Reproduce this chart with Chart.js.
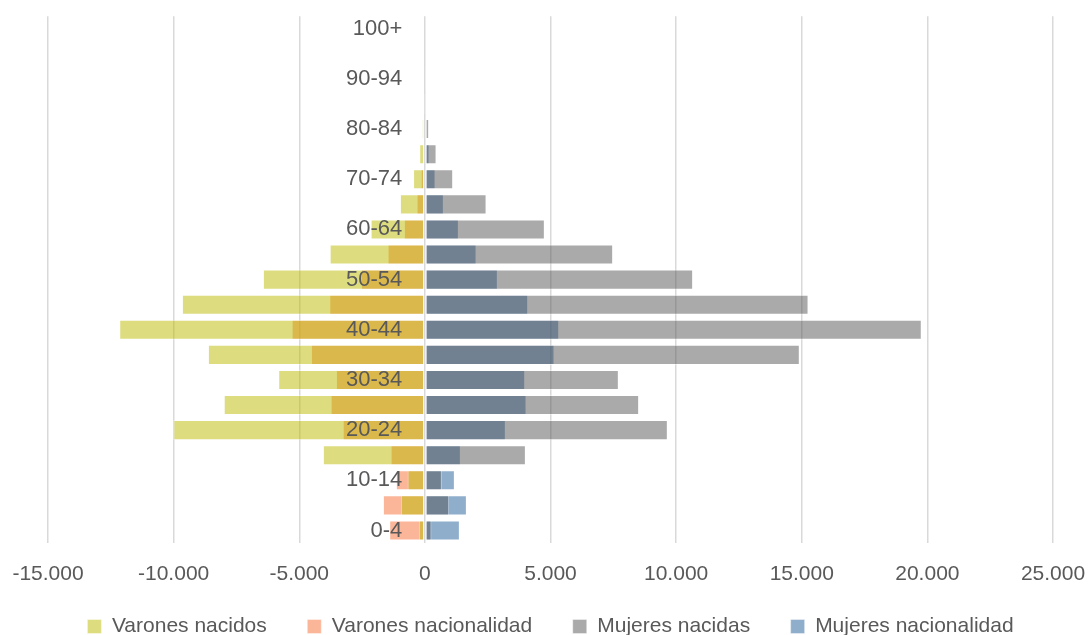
<!DOCTYPE html>
<html lang="es">
<head>
<meta charset="utf-8">
<title>Pirámide de población</title>
<script src="https://cdn.jsdelivr.net/npm/chart.js@4.4.1/dist/chart.umd.min.js"></script>
<style>
  html, body { margin: 0; padding: 0; background: #fff; }
  #wrap { width: 1088px; height: 635px; position: relative; }
</style>
</head>
<body>
<div id="wrap"><canvas id="pyramid"></canvas></div>
<script>
// --- Data (youngest group first) ---
const ageGroups = ['0-4', '5-9', '10-14', '15-19', '20-24', '25-29', '30-34', '35-39', '40-44', '45-49',
  '50-54', '55-59', '60-64', '65-69', '70-74', '75-79', '80-84', '85-89', '90-94', '95-99', '100+'];

const varonesNacidos      = [240, 955, 690, 4060, 10010, 8006, 5837, 8635, 12165, 9670, 6447, 3790, 2160, 995, 470, 225, 120, 20, 0, 0, 0];
const varonesNacionalidad = [1420, 1671, 1154, 1365, 3271, 3753, 3541, 4536, 5305, 3806, 2547, 1485, 836, 330, 165, 50, 20, 5, 0, 0, 0];
const mujeresNacidas      = [265, 968, 676, 4020, 9670, 8528, 7720, 14922, 19777, 15270, 10677, 7494, 4775, 2455, 1127, 465, 170, 70, 10, 0, 0];
const mujeresNacionalidad = [1393, 1672, 1194, 1433, 3223, 4046, 3993, 5160, 5345, 4111, 2905, 2057, 1353, 756, 425, 185, 110, 20, 0, 0, 0];

const xTicksMin = -15000;
const xTicksMax = 25000;
const xTickStep = 5000;

// --- Helpers ---
const textColor = '#595959';
const gridColor = '#d9d9d9';

const fmt = (v) => {
    const s = Math.abs(v).toString().replace(/\B(?=(\d{3})+(?!\d))/g, '.');
    return (v < 0 ? '-' : '') + s;
};

const negate = (arr) => arr.map(v => -v);

Chart.defaults.font.family = '"Liberation Sans", Arial, sans-serif';
Chart.defaults.color = textColor;

const barStyle = {
    borderWidth: 1,
    borderColor: 'rgba(255,255,255,0.4)',
    borderSkipped: false,
    categoryPercentage: 0.8,
    barPercentage: 1
};

// default legend items, with a little extra room after every item but the last
const spacedLegendLabels = (chart) => {
    const items = Chart.defaults.plugins.legend.labels.generateLabels(chart);
    return items.map((it, i) => (i < items.length - 1 ? { ...it, text: it.text + '\u2002' } : it));
};

new Chart(document.getElementById('pyramid'), {
    type: 'bar',
    data: {
        labels: ageGroups,
        datasets: [
            { label: 'Varones nacidos', data: negate(varonesNacidos), backgroundColor: 'rgba(188,188,0,0.5)', ...barStyle },
            { label: 'Varones nacionalidad', data: negate(varonesNacionalidad), backgroundColor: 'rgba(247,109,53,0.5)', ...barStyle },
            { label: 'Mujeres nacidas', data: mujeresNacidas, backgroundColor: 'rgba(85,85,87,0.5)', ...barStyle },
            { label: 'Mujeres nacionalidad', data: mujeresNacionalidad, backgroundColor: 'rgba(31,93,153,0.5)', ...barStyle }
        ]
    },
    options: {
        indexAxis: 'y',
        responsive: true,
        maintainAspectRatio: false,
        animation: false,
        grouped: false,
        layout: { padding: { left: 48, right: 35, top: 15, bottom: -12 } },
        plugins: {
            tooltip: { enabled: false },
            legend: {
                position: 'bottom',
                labels: {
                    boxWidth: 14,
                    boxHeight: 14,
                    padding: 30,
                    color: textColor,
                    font: { size: 21 },
                    generateLabels: spacedLegendLabels
                }
            }
        },
        scales: {
            x: {
                min: xTicksMin,
                max: xTicksMax,
                grid: { color: gridColor, lineWidth: 1.5, drawTicks: false },
                border: { display: false },
                ticks: {
                    stepSize: xTickStep,
                    padding: 21,
                    color: textColor,
                    font: { size: 21, lineHeight: 1 },
                    callback: (v) => fmt(v)
                },
                // keep the label gap from widening the plot
                afterFit: (scale) => {
                    scale.paddingLeft = 0;
                    scale.paddingRight = 0;
                    scale.height = 43;
                }
            },
            y: {
                reverse: true,
                position: { x: -900 },
                grid: { display: false },
                border: { display: false },
                ticks: {
                    z: 1, // age labels sit on top of the bars
                    autoSkip: false,
                    color: textColor,
                    font: { size: 22 },
                    callback: (v, i) => (i % 2 === 0 ? ageGroups[v] : '')
                }
            }
        }
    }
});
</script>
</body>
</html>
